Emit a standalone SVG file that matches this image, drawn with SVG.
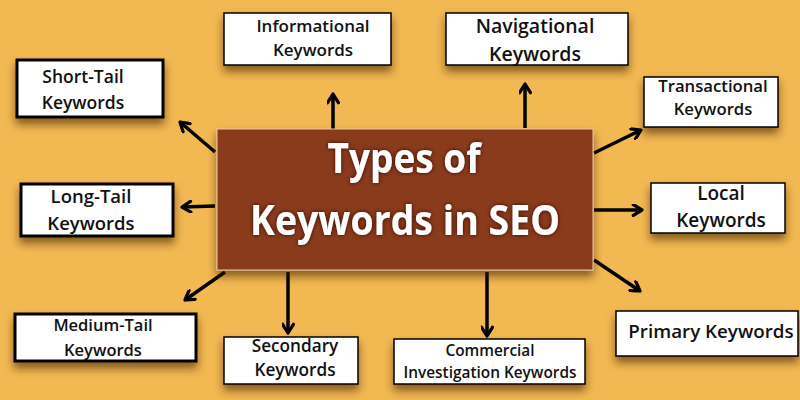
<svg xmlns="http://www.w3.org/2000/svg" width="800" height="400" viewBox="0 0 800 400">
<defs>
<filter id="sh" x="-20%" y="-30%" width="140%" height="180%">
<feDropShadow dx="0" dy="6" stdDeviation="4" flood-color="#3a2300" flood-opacity="0.6"/>
</filter>
<filter id="tsh" x="-10%" y="-20%" width="120%" height="140%">
<feDropShadow dx="0" dy="0" stdDeviation="2" flood-color="#2a0a00" flood-opacity="0.9"/>
</filter>
<marker id="ah" viewBox="0 0 12 12" refX="10" refY="6" markerWidth="13" markerHeight="13" markerUnits="userSpaceOnUse" orient="auto">
<path d="M2,1 L10,6 L2,11" fill="none" stroke="#000" stroke-width="3" stroke-linecap="round" stroke-linejoin="round"/>
</marker>
<style>
.box{fill:#fff;stroke:#000;stroke-width:1.5}
.thick{stroke-width:3}
.t{font-family:"Open Sans","Noto Sans",sans-serif;font-weight:600;fill:#111;text-anchor:middle}
.title{font-family:"Open Sans","Noto Sans",sans-serif;font-weight:700;fill:#fff;font-size:42px;text-anchor:middle}
.ar{stroke:#000;stroke-width:3.5;fill:none;marker-end:url(#ah)}
</style>
</defs>
<rect width="800" height="400" fill="#F2B851"/>
<g id="connectors">
<line class="ar" x1="333" y1="129" x2="333" y2="94"/>
<line class="ar" x1="525" y1="128" x2="525" y2="84"/>
<line class="ar" x1="215" y1="152" x2="180" y2="122"/>
<line class="ar" x1="594" y1="153" x2="641" y2="130"/>
<line class="ar" x1="215" y1="206" x2="182" y2="207"/>
<line class="ar" x1="594" y1="210" x2="642" y2="210"/>
<line class="ar" x1="225" y1="272" x2="185" y2="300"/>
<line class="ar" x1="288" y1="272" x2="288" y2="333"/>
<line class="ar" x1="487" y1="272" x2="487" y2="336"/>
<line class="ar" x1="594" y1="260" x2="640" y2="291"/>
</g>
<g id="center">
<rect x="217" y="129" width="376" height="141" fill="#8A3A1E" stroke="#E9C9A4" stroke-width="1" filter="url(#sh)"/>
<g filter="url(#tsh)">
<text class="title" x="404" y="173" textLength="153" lengthAdjust="spacingAndGlyphs">Types of</text>
<text class="title" x="405" y="235" textLength="310" lengthAdjust="spacingAndGlyphs">Keywords in SEO</text>
</g>
</g>
<g id="informational">
<rect class="box" x="224" y="13" width="167" height="52" filter="url(#sh)"/>
<text class="t" x="313" y="32" font-size="17">Informational</text>
<text class="t" x="313" y="56" font-size="17">Keywords</text>
</g>
<g id="navigational">
<rect class="box" x="446" y="13" width="182" height="52" filter="url(#sh)"/>
<text class="t" x="535" y="33" font-size="19.5">Navigational</text>
<text class="t" x="535" y="61" font-size="19.5">Keywords</text>
</g>
<g id="shorttail">
<rect class="box thick" x="17" y="60" width="146" height="57" filter="url(#sh)"/>
<text class="t" x="83" y="83" font-size="17.5">Short-Tail</text>
<text class="t" x="83" y="109" font-size="17.5">Keywords</text>
</g>
<g id="transactional">
<rect class="box" x="644" y="77" width="134" height="50" filter="url(#sh)"/>
<text class="t" x="713" y="92" font-size="16.7">Transactional</text>
<text class="t" x="713" y="115" font-size="16.7">Keywords</text>
</g>
<g id="longtail">
<rect class="box thick" x="21" y="184" width="152" height="52" filter="url(#sh)"/>
<text class="t" x="91" y="203" font-size="18.5">Long-Tail</text>
<text class="t" x="91" y="230" font-size="18.5">Keywords</text>
</g>
<g id="local">
<rect class="box" x="651" y="183" width="134" height="50" filter="url(#sh)"/>
<text class="t" x="721" y="200" font-size="19">Local</text>
<text class="t" x="721" y="227" font-size="19">Keywords</text>
</g>
<g id="mediumtail">
<rect class="box thick" x="15" y="314" width="181" height="47" filter="url(#sh)"/>
<text class="t" x="103" y="331" font-size="16.5">Medium-Tail</text>
<text class="t" x="103" y="356" font-size="16.5">Keywords</text>
</g>
<g id="secondary">
<rect class="box" x="224" y="337" width="134" height="47" filter="url(#sh)"/>
<text class="t" x="295" y="352" font-size="17.2">Secondary</text>
<text class="t" x="295" y="376" font-size="17.2">Keywords</text>
</g>
<g id="commercial">
<rect class="box" x="394" y="339" width="191" height="45" filter="url(#sh)"/>
<text class="t" x="490" y="356" font-size="15.4">Commercial</text>
<text class="t" x="490" y="378" font-size="15.4">Investigation Keywords</text>
</g>
<g id="primary">
<rect class="box" x="616" y="311" width="182" height="45" filter="url(#sh)"/>
<text class="t" x="711" y="338" font-size="18.8">Primary Keywords</text>
</g>
</svg>
